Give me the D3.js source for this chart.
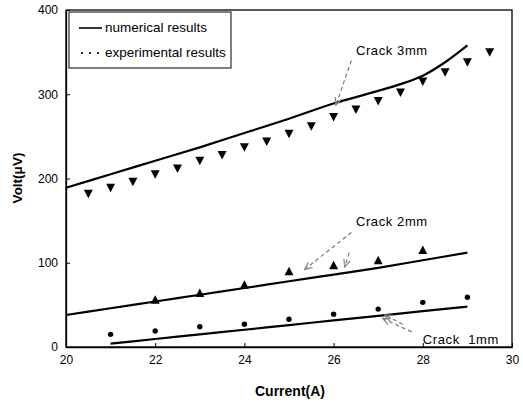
<!DOCTYPE html>
<html><head><meta charset="utf-8">
<script src="https://cdn.jsdelivr.net/npm/d3@7"></script>
<style>body{margin:0;background:#fff}svg{display:block}text{font-family:"Liberation Sans",Arial,sans-serif}</style>
</head><body><svg id="c" width="523" height="403"></svg>
<script>
// Numerical results (lines)
const num3 = [[20,189],[21,205],[22,221],[23,237],[24,254],[25,271],[26,289],[27,304],[27.5,312],[28,322],[28.5,338],[29,358]];
const num2 = [[20,38],[21,46],[22,54],[23,62],[24,70],[25,78],[26,86],[27,94],[28,103],[29,112]];
const num1 = [[21,4],[22,9.5],[23,15],[24,20.5],[25,26],[26,31.5],[27,37],[28,42.5],[29,48]];
// Experimental results (markers)
const exp3 = [[20.5,182],[21,189],[21.5,196],[22,205],[22.5,212],[23,221],[23.5,228],[24,237],[24.5,244],[25,253],[25.5,262],[26,273],[26.5,282],[27,292],[27.5,302],[28,315],[28.5,326],[29,338],[29.5,350]];
const exp2 = [[22,56],[23,64],[24,74],[25,90],[26,97],[27,103],[28,115]];
const exp1 = [[21,15],[22,19],[23,24],[24,27],[25,33],[26,39],[27,45],[28,53],[29,59]];
const xTicks = [20,22,24,26,28,30];
const yTicks = [0,100,200,300,400];
const legendLabels = ["numerical results","experimental results"];
const annotations = [
  {text:"Crack 3mm", tx:26.5, ty:346, arrows:[[26.4,340,26.05,287]]},
  {text:"Crack 2mm", tx:26.5, ty:144, arrows:[[26.4,136,25.35,92],[26.35,112,26.25,95]]},
  {text:"Crack  1mm", tx:28.0, ty:3, arrows:[[27.75,18,27.1,34],[27.55,27,27.15,38]]}
];

const svg = d3.select("#c");
const x = d3.scaleLinear().domain([20,30]).range([66,512]);
const y = d3.scaleLinear().domain([0,400]).range([347,10]);

svg.append("defs").append("marker").attr("id","ah").attr("viewBox","0 0 10 10")
  .attr("refX",9).attr("refY",5).attr("markerWidth",7).attr("markerHeight",7).attr("orient","auto")
  .append("path").attr("d","M0,1 L9,5 L0,9").attr("fill","none").attr("stroke","#888").attr("stroke-width",1.5);

// box
svg.append("rect").attr("x",66).attr("y",10).attr("width",446).attr("height",337)
  .attr("fill","none").attr("stroke","#000").attr("stroke-width",1.3);

const gx = svg.append("g").attr("transform","translate(0,347)")
  .call(d3.axisBottom(x).tickValues(xTicks).tickSizeInner(-4).tickSizeOuter(0).tickPadding(8));
const gy = svg.append("g").attr("transform","translate(66,0)")
  .call(d3.axisLeft(y).tickValues(yTicks).tickSizeInner(-4).tickSizeOuter(0).tickPadding(8));
[gx,gy].forEach(g=>{
  g.select(".domain").attr("stroke","#000").attr("stroke-width",1.3);
  g.selectAll(".tick line").attr("stroke","#000");
  g.selectAll("text").attr("font-size",12).attr("fill","#000").attr("font-family","'Liberation Sans',Arial,sans-serif");
});

const line = d3.line().x(d=>x(d[0])).y(d=>y(d[1])).curve(d3.curveMonotoneX);
[num3,num2,num1].forEach(s=>{
  svg.append("path").attr("d",line(s)).attr("fill","none").attr("stroke","#000").attr("stroke-width",2.2);
});

svg.selectAll(".t3").data(exp3).enter().append("path")
  .attr("transform",d=>`translate(${x(d[0])},${y(d[1])})`)
  .attr("d","M-4.5,-4 L4.5,-4 L0,4.5 Z").attr("fill","#000");
svg.selectAll(".t2").data(exp2).enter().append("path")
  .attr("transform",d=>`translate(${x(d[0])},${y(d[1])})`)
  .attr("d","M-4.5,4 L4.5,4 L0,-4.5 Z").attr("fill","#000");
svg.selectAll(".t1").data(exp1).enter().append("circle")
  .attr("cx",d=>x(d[0])).attr("cy",d=>y(d[1])).attr("r",2.7).attr("fill","#000");

// annotations
annotations.forEach(a=>{
  svg.append("text").attr("x",x(a.tx)).attr("y",y(a.ty)).attr("font-size",13).attr("letter-spacing",0.6)
    .attr("fill","#000").attr("xml:space","preserve").style("white-space","pre").text(a.text);
  a.arrows.forEach(r=>{
    svg.append("line").attr("x1",x(r[0])).attr("y1",y(r[1])).attr("x2",x(r[2])).attr("y2",y(r[3]))
      .attr("stroke","#777").attr("stroke-width",1.2).attr("stroke-dasharray","4,3").attr("marker-end","url(#ah)");
  });
});

// legend
const lg = svg.append("g");
lg.append("rect").attr("x",69).attr("y",12).attr("width",162).attr("height",56).attr("fill","#fff").attr("stroke","#000").attr("stroke-width",1);
lg.append("line").attr("x1",79).attr("x2",102).attr("y1",28).attr("y2",28).attr("stroke","#000").attr("stroke-width",1.6);
[82,90,98].forEach(cx=>lg.append("circle").attr("cx",cx).attr("cy",53).attr("r",1.1).attr("fill","#000"));
lg.selectAll(".lt").data(legendLabels).enter().append("text")
  .attr("x",105).attr("y",(d,i)=>32+i*25).attr("font-size",13.5).attr("fill","#000").text(d=>d);

svg.append("text").attr("x",290).attr("y",396).attr("text-anchor","middle").attr("font-size",14).attr("font-weight","bold").text("Current(A)");
svg.append("text").attr("transform","translate(22,178) rotate(-90)").attr("text-anchor","middle").attr("font-size",13.5).attr("font-weight","bold").text("Volt(μV)");
</script></body></html>
